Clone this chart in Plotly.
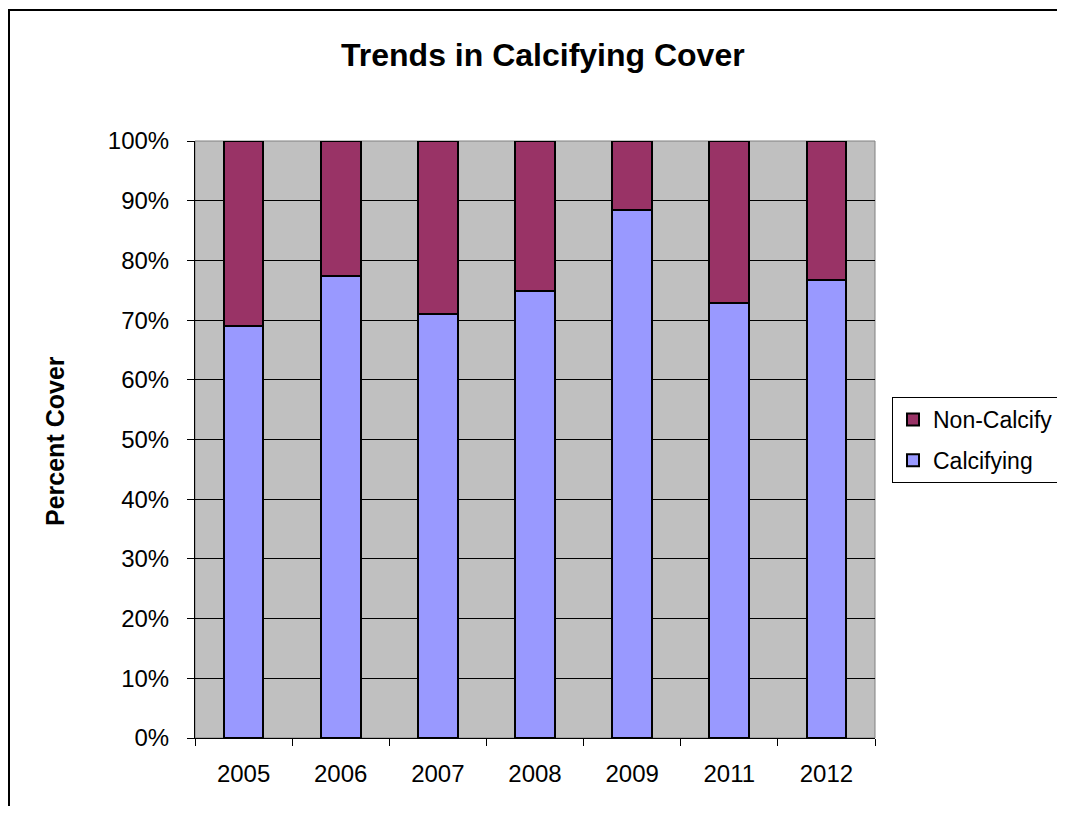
import plotly.graph_objects as go

years = ["2005", "2006", "2007", "2008", "2009", "2011", "2012"]
calcifying = [69.0, 77.4, 71.0, 74.9, 88.4, 72.9, 76.7]
non_calcify = [31.0, 22.6, 29.0, 25.1, 11.6, 27.1, 23.3]
y_ticks = [0, 10, 20, 30, 40, 50, 60, 70, 80, 90, 100]
y_tick_labels = [f"{v}%" for v in y_ticks]

FONT = "Liberation Sans, Arial, sans-serif"

# page has an 8px body margin; layout values expressed in page pixels minus that
OFF = 8
W, H = 1065 - 2 * OFF, 814 - 2 * OFF
PL, PR, PT, PB = 195 - OFF, 875 - OFF, 141 - OFF, 738 - OFF
pw, ph = PR - PL, PB - PT


def px(x):
    return (x - OFF - PL) / pw


def py(y):
    return (PB - (y - OFF)) / ph


fig = go.Figure()
fig.add_trace(go.Bar(x=years, y=calcifying, name="Calcifying", legendgroup="c", legendrank=2,
                     marker=dict(color="#9999FF", line=dict(color="black", width=2))))
fig.add_trace(go.Bar(x=years, y=non_calcify, name="Non-Calcify", legendgroup="n", legendrank=1,
                     marker=dict(color="#993366", line=dict(color="black", width=2))))

fig.update_layout(
    width=W, height=H,
    margin=dict(l=PL, r=W - PR, t=PT, b=H - PB, autoexpand=False),
    barmode="stack", bargap=0.59,
    paper_bgcolor="white", plot_bgcolor="#C0C0C0",
    font=dict(family=FONT, size=24, color="black"),
    showlegend=True,
    legend=dict(x=px(892), y=py(397), xanchor="left", yanchor="top",
                traceorder="grouped", bordercolor="black", borderwidth=1,
                bgcolor="white", font=dict(size=23, family=FONT),
                itemwidth=30, tracegroupgap=8),
    xaxis=dict(type="category", showgrid=False, showline=True, linecolor="black",
               linewidth=1, ticks="outside", tickson="boundaries", ticklen=7,
               tickcolor="black", tickfont=dict(size=24), ticklabelstandoff=14),
    yaxis=dict(range=[0, 100], tickvals=y_ticks, ticktext=y_tick_labels,
               showgrid=True, gridcolor="black", gridwidth=1,
               showline=True, linecolor="black", linewidth=1,
               ticks="outside", ticklen=7, tickcolor="black",
               tickfont=dict(size=24), ticklabelstandoff=13, zeroline=False),
    shapes=[
        dict(type="rect", xref="paper", yref="paper", x0=0, x1=1, y0=0, y1=1,
             line=dict(color="#808080", width=1), layer="below"),
        dict(type="rect", xref="paper", yref="paper", x0=px(9), x1=2.0, y0=-1.0, y1=py(10),
             line=dict(color="black", width=2)),
    ],
    annotations=[
        dict(text="<b>Trends in Calcifying Cover</b>", xref="paper", yref="paper",
             x=px(543), y=py(55), xanchor="center", yanchor="middle",
             showarrow=False, font=dict(size=32, family=FONT)),
        dict(text="<b>Percent Cover</b>", xref="paper", yref="paper",
             x=px(55), y=py(441), xanchor="center", yanchor="middle",
             showarrow=False, textangle=-90, font=dict(size=25, family=FONT)),
    ],
)

fig.write_html("out.html")
